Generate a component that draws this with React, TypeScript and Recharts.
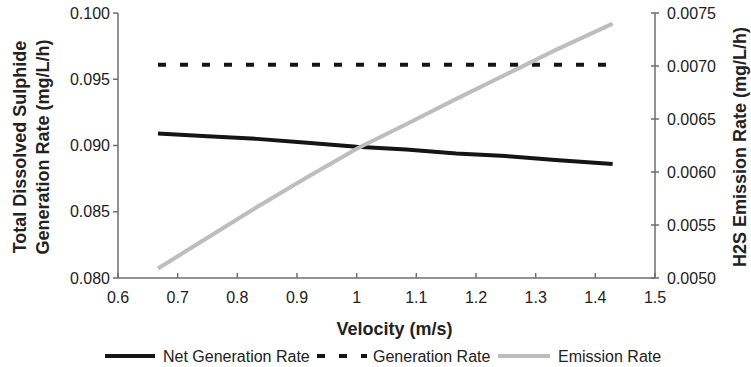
import { LineChart, Line, XAxis, YAxis, Legend } from "recharts";

const velocity = [0.667, 0.75, 0.833, 0.917, 1.0, 1.083, 1.167, 1.25, 1.333, 1.429];
const netGeneration = [0.0909, 0.0907, 0.0905, 0.0902, 0.0899, 0.0897, 0.0894, 0.0892, 0.0889, 0.0886];
const generation = [0.0961, 0.0961, 0.0961, 0.0961, 0.0961, 0.0961, 0.0961, 0.0961, 0.0961, 0.0961];
const emission = [0.00509, 0.00538, 0.00567, 0.00595, 0.00622, 0.00645, 0.00669, 0.00692, 0.00715, 0.0074];

const xTicks = [0.6, 0.7, 0.8, 0.9, 1.0, 1.1, 1.2, 1.3, 1.4, 1.5];
const xTickLabels = ["0.6", "0.7", "0.8", "0.9", "1", "1.1", "1.2", "1.3", "1.4", "1.5"];
const leftTicks = [0.08, 0.085, 0.09, 0.095, 0.1];
const rightTicks = [0.005, 0.0055, 0.006, 0.0065, 0.007, 0.0075];

const data = velocity.map((v, i) => ({
  v,
  net: netGeneration[i],
  gen: generation[i],
  em: emission[i],
}));

const FONT = "'Liberation Sans', Arial, sans-serif";
const TEXT = "#222";
const AXIS = "#6e6e6e";

const XTick = (props: any) => {
  const { x, y, payload } = props;
  const idx = xTicks.findIndex((t) => Math.abs(t - payload.value) < 1e-6);
  return (
    <g>
      <line x1={x} x2={x} y1={y} y2={y - 5} stroke={AXIS} strokeWidth={1.5} />
      <text x={x} y={y + 25} textAnchor="middle" fontSize={16} fill={TEXT} fontFamily={FONT}>
        {idx >= 0 ? xTickLabels[idx] : payload.value}
      </text>
    </g>
  );
};

const LeftTick = (props: any) => {
  const { x, y, payload } = props;
  return (
    <g>
      <line x1={x - 5} x2={x} y1={y} y2={y} stroke={AXIS} strokeWidth={1.5} />
      <text x={x - 8} y={y + 5.5} textAnchor="end" fontSize={16} fill={TEXT} fontFamily={FONT}>
        {Number(payload.value).toFixed(3)}
      </text>
    </g>
  );
};

const RightTick = (props: any) => {
  const { x, y, payload } = props;
  return (
    <g>
      <line x1={x - 4} x2={x + 4} y1={y} y2={y} stroke={AXIS} strokeWidth={1.5} />
      <text x={x + 12} y={y + 5.5} textAnchor="start" fontSize={16} fill={TEXT} fontFamily={FONT}>
        {Number(payload.value).toFixed(4)}
      </text>
    </g>
  );
};

const LegendContent = () => (
  <svg width={751} height={24} style={{ display: "block" }}>
    <g fontFamily={FONT} fontSize={16} fill={TEXT}>
      <line x1={105} x2={155} y1={13} y2={13} stroke="#151515" strokeWidth={4} />
      <text x={163} y={19}>Net Generation Rate</text>
      <line x1={317} x2={367} y1={13} y2={13} stroke="#151515" strokeWidth={4} strokeDasharray="8 14" />
      <text x={373} y={19}>Generation Rate</text>
      <line x1={498} x2={550} y1={13} y2={13} stroke="#bdbdbd" strokeWidth={4} />
      <text x={558} y={19}>Emission Rate</text>
    </g>
  </svg>
);

export default function App() {
  return (
    <div style={{ position: "absolute", left: 0, top: 0, background: "#fff" }}>
      <LineChart width={751} height={367} data={data} margin={{ top: 13, right: 0, bottom: 0, left: 0 }}>
        <XAxis
          dataKey="v"
          type="number"
          domain={[0.6, 1.5]}
          ticks={xTicks}
          interval={0}
          height={65}
          tickSize={0}
          tickMargin={0}
          tick={<XTick />}
          stroke={AXIS}
          strokeWidth={1.5}
          label={(p: any) => {
            const vb = p.viewBox;
            return (
              <text
                x={vb.x + vb.width / 2 + 8}
                y={335}
                textAnchor="middle"
                fontSize={18}
                fontWeight="bold"
                fill={TEXT}
                fontFamily={FONT}
              >
                Velocity (m/s)
              </text>
            );
          }}
        />
        <YAxis
          yAxisId="left"
          orientation="left"
          domain={[0.08, 0.1]}
          ticks={leftTicks}
          interval={0}
          width={118}
          tickSize={0}
          tickMargin={0}
          tick={<LeftTick />}
          stroke={AXIS}
          strokeWidth={1.5}
          label={() => (
            <text
              transform="translate(0,147) rotate(-90)"
              textAnchor="middle"
              fontSize={18}
              fontWeight="bold"
              fill={TEXT}
              fontFamily={FONT}
            >
              <tspan x={0} y={26}>Total Dissolved Sulphide</tspan>
              <tspan x={0} y={49}>Generation Rate (mg/L/h)</tspan>
            </text>
          )}
        />
        <YAxis
          yAxisId="right"
          orientation="right"
          domain={[0.005, 0.0075]}
          ticks={rightTicks}
          interval={0}
          width={96}
          tickSize={0}
          tickMargin={0}
          tick={<RightTick />}
          stroke={AXIS}
          strokeWidth={1.5}
          label={() => (
            <text
              transform="translate(746,147) rotate(-90)"
              textAnchor="middle"
              fontSize={18}
              fontWeight="bold"
              fill={TEXT}
              fontFamily={FONT}
            >
              H2S Emission Rate (mg/L/h)
            </text>
          )}
        />
        <Legend verticalAlign="bottom" content={<LegendContent />} />
        <Line
          yAxisId="left"
          type="linear"
          dataKey="net"
          name="Net Generation Rate"
          stroke="#151515"
          strokeWidth={4}
          dot={false}
          isAnimationActive={false}
        />
        <Line
          yAxisId="left"
          type="linear"
          dataKey="gen"
          name="Generation Rate"
          stroke="#151515"
          strokeWidth={4}
          strokeDasharray="8 14"
          dot={false}
          isAnimationActive={false}
        />
        <Line
          yAxisId="right"
          type="linear"
          dataKey="em"
          name="Emission Rate"
          stroke="#bdbdbd"
          strokeWidth={4}
          dot={false}
          isAnimationActive={false}
        />
      </LineChart>
    </div>
  );
}
